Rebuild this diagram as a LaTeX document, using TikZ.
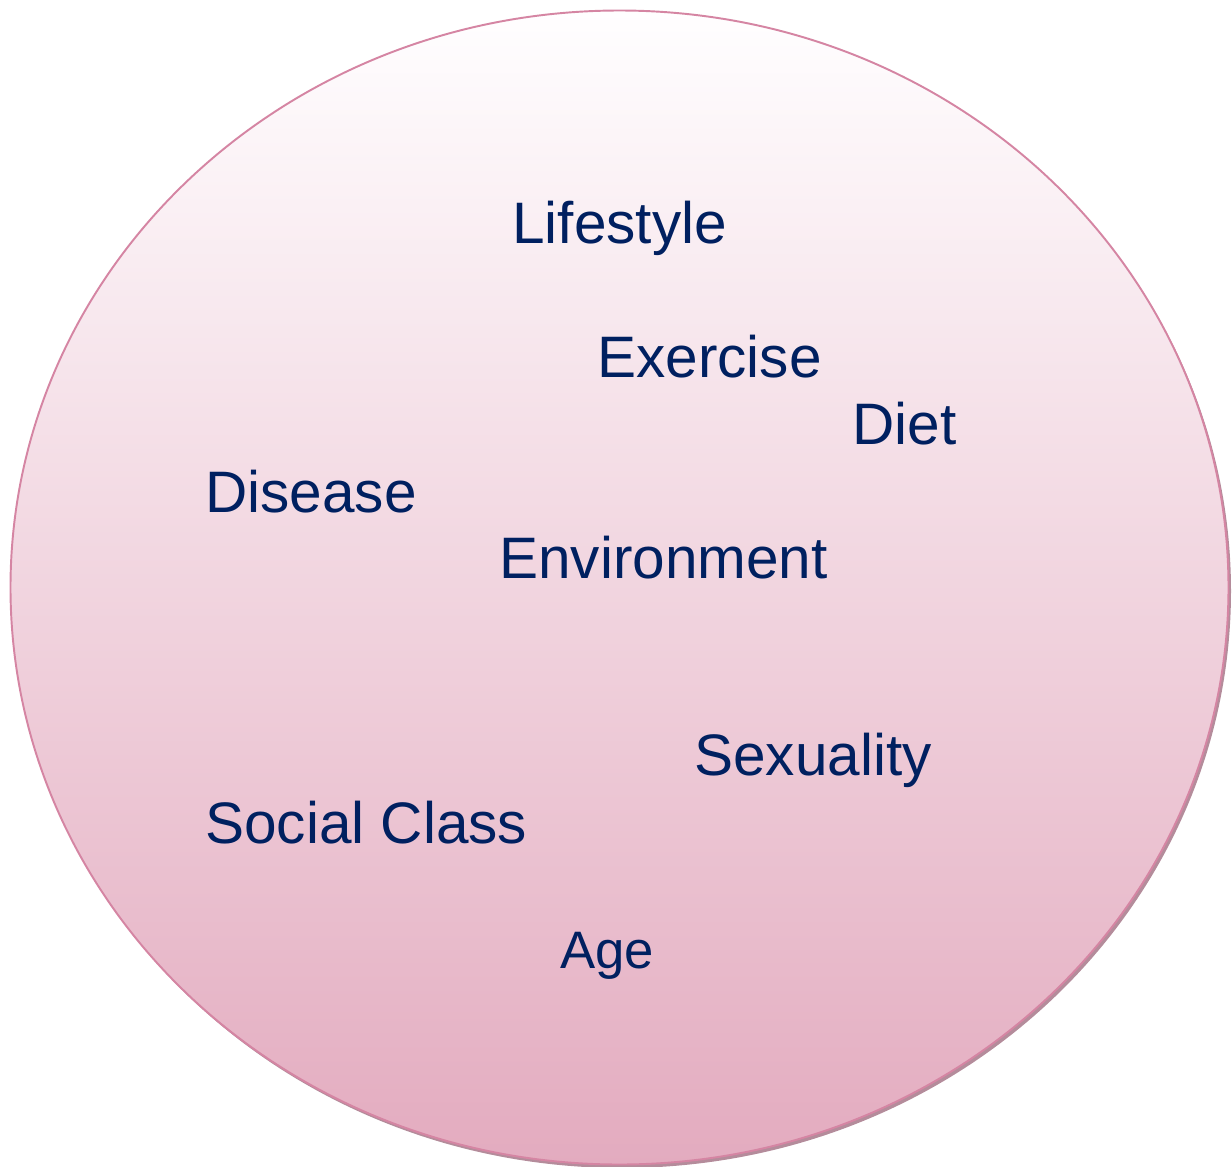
\documentclass[tikz,border=0pt]{standalone}
\usepackage{fontspec}
\setmainfont{Liberation Sans}
\definecolor{navytext}{HTML}{002060}
\definecolor{rimpink}{HTML}{D585A3}
\definecolor{topfill}{HTML}{FFFEFF}
\definecolor{bottomfill}{HTML}{E3ABBF}
\definecolor{shadowgrey}{HTML}{B48C9B}
\begin{document}
\begin{tikzpicture}[x=0.02cm,y=-0.02cm]

      \useasboundingbox (0,0) rectangle (1232,1167);

      % the circle, with its shadow
      \fill[shadowgrey] (622,591) ellipse [x radius=609, y radius=577];
      \shade[top color=topfill,bottom color=bottomfill,draw=rimpink,line width=1.1pt]
        (619.5,587.5) ellipse [x radius=609, y radius=577];

      \begin{scope}[every node/.style={anchor=base west,inner sep=0pt,text=navytext,font=\fontsize{33.3}{40}\selectfont}]
        \node (lifestyle)   at (512,243) {Lifestyle};
        \node (exercise)    at (597,377) {Exercise};
        \node (diet)        at (852,444) {Diet};
        \node (disease)     at (205,512) {Disease};
        \node (environment) at (499,578) {Environment};
        \node (sexuality)   at (694,775) {Sexuality};
        \node (socialclass) at (205,843) {Social Class};
        \node[font=\fontsize{30}{36}\selectfont] (age) at (560,968) {Age};
      \end{scope}

    \end{tikzpicture}
\end{document}
